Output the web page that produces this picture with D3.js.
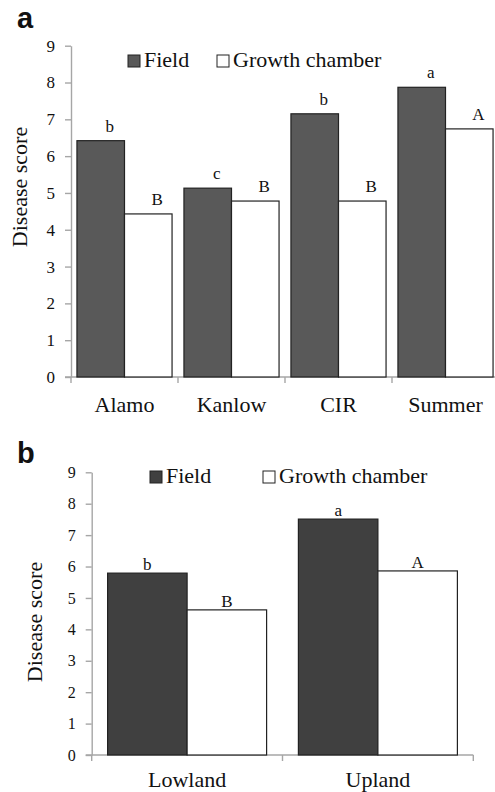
<!DOCTYPE html>
<html>
<head>
<meta charset="utf-8">
<script src="https://cdn.jsdelivr.net/npm/d3@7"></script>
<style>
  body { margin: 0; background: #fff; }
  svg { display: block; }
</style>
</head>
<body>
<div id="chart"></div>
<script>
  // panel a data
  const cultivars = ["Alamo", "Kanlow", "CIR", "Summer"];
  const fieldA = [6.42, 5.13, 7.15, 7.87];
  const chamberA = [4.43, 4.78, 4.78, 6.74];
  const fieldLettersA = ["b", "c", "b", "a"];
  const chamberLettersA = ["B", "B", "B", "A"];

  // panel b data
  const ecotypes = ["Lowland", "Upland"];
  const fieldB = [5.79, 7.51];
  const chamberB = [4.62, 5.86];
  const fieldLettersB = ["b", "a"];
  const chamberLettersB = ["B", "A"];

  const yTicks = [0, 1, 2, 3, 4, 5, 6, 7, 8, 9];
  const seriesNames = ["Field", "Growth chamber"];

  const width = 495;
  const height = 792;
  const axisColor = "#a6a6a6";
  const serif = "'Liberation Serif', 'Times New Roman', serif";

  let svg = d3.select("#chart")
    .append("svg")
    .attr("width", width)
    .attr("height", height);

  // draws one grouped bar panel
  function drawPanel(opt) {
    let g = svg.append("g");

    let x = d3.scaleBand()
      .domain(opt.categories)
      .range([opt.left, opt.right])
      .paddingInner(0)
      .paddingOuter(0);

    let y = d3.scaleLinear()
      .domain([0, 9])
      .range([opt.bottom, opt.top]);

    let inner = d3.scaleBand()
      .domain([0, 1])
      .range([0, x.bandwidth()])
      .paddingOuter(opt.outerPad)
      .paddingInner(0);

    // y axis
    let yAxis = g.append("g")
      .attr("transform", `translate(${opt.left},0)`)
      .call(d3.axisLeft(y).tickValues(yTicks).tickSize(6).tickPadding(10).tickSizeOuter(0));
    yAxis.select(".domain").attr("stroke", axisColor).attr("stroke-width", 1.4);
    yAxis.selectAll(".tick line").attr("stroke", axisColor).attr("stroke-width", 1.4);
    yAxis.selectAll(".tick text")
      .style("font-family", serif)
      .style("font-size", opt.tickFont + "px")
      .attr("fill", "#111");

    // x axis (category dividers)
    let xEdges = opt.categories.map(c => x(c)).concat([opt.right]);
    g.append("line")
      .attr("x1", opt.left - 6).attr("x2", opt.right)
      .attr("y1", y(0)).attr("y2", y(0))
      .attr("stroke", axisColor).attr("stroke-width", 1.4);
    g.selectAll(".xtick")
      .data(xEdges)
      .enter()
      .append("line")
      .attr("x1", d => d).attr("x2", d => d)
      .attr("y1", y(0)).attr("y2", y(0) + 6)
      .attr("stroke", axisColor).attr("stroke-width", 1.4);

    g.selectAll(".xlabel")
      .data(opt.categories)
      .enter()
      .append("text")
      .attr("x", d => x(d) + x.bandwidth() / 2)
      .attr("y", opt.xLabelY)
      .attr("text-anchor", "middle")
      .attr("fill", "#111")
      .style("font-family", serif)
      .style("font-size", "22px")
      .text(d => d);

    // bars
    let series = [
      { vals: opt.field, letters: opt.fieldLetters, fill: opt.fieldColor },
      { vals: opt.chamber, letters: opt.chamberLetters, fill: "#fff" }
    ];

    series.forEach((s, si) => {
      g.selectAll(".bar" + si)
        .data(opt.categories)
        .enter()
        .append("rect")
        .attr("x", d => x(d) + inner(si))
        .attr("y", (d, i) => y(s.vals[i]))
        .attr("width", inner.bandwidth())
        .attr("height", (d, i) => y(0) - y(s.vals[i]))
        .attr("fill", s.fill)
        .attr("stroke", "#222")
        .attr("stroke-width", 1.2);

      g.selectAll(".letter" + si)
        .data(opt.categories)
        .enter()
        .append("text")
        .attr("x", d => x(d) + inner(si) + inner.bandwidth() / 2 + opt.letterDx)
        .attr("y", (d, i) => y(s.vals[i]) - opt.letterGap)
        .attr("text-anchor", "middle")
        .attr("fill", "#111")
        .style("font-family", serif)
        .style("font-size", "17px")
        .text((d, i) => s.letters[i]);
    });

    // y title
    g.append("text")
      .attr("transform", `translate(${opt.titleX},${opt.titleY}) rotate(-90)`)
      .attr("text-anchor", "middle")
      .attr("fill", "#111")
      .style("font-family", serif)
      .style("font-size", "22px")
      .text("Disease score");

    // legend
    let legendFills = [opt.fieldColor, "#fff"];
    opt.legendX.forEach((lx, i) => {
      g.append("rect")
        .attr("x", lx)
        .attr("y", opt.legendY - 12)
        .attr("width", 12)
        .attr("height", 12)
        .attr("fill", legendFills[i])
        .attr("stroke", "#222")
        .attr("stroke-width", 1);
      g.append("text")
        .attr("x", lx + 16)
        .attr("y", opt.legendY)
        .attr("fill", "#111")
        .style("font-family", serif)
        .style("font-size", "22px")
        .text(seriesNames[i]);
    });

    // panel letter
    g.append("text")
      .attr("x", 17)
      .attr("y", opt.panelY)
      .attr("fill", "#111")
      .style("font-family", "'Liberation Sans', Arial, sans-serif")
      .style("font-weight", "bold")
      .style("font-size", "29px")
      .text(opt.panel);
  }

  drawPanel({
    panel: "a", panelY: 28,
    categories: cultivars, field: fieldA, chamber: chamberA,
    fieldLetters: fieldLettersA, chamberLetters: chamberLettersA,
    fieldColor: "#595959",
    left: 71, right: 499, top: 45.7, bottom: 377,
    outerPad: 0.125, letterDx: 9, letterGap: 9,
    tickFont: 17, xLabelY: 412,
    titleX: 27, titleY: 187,
    legendX: [128, 217], legendY: 67
  });

  drawPanel({
    panel: "b", panelY: 463,
    categories: ecotypes, field: fieldB, chamber: chamberB,
    fieldLetters: fieldLettersB, chamberLetters: chamberLettersB,
    fieldColor: "#404040",
    left: 91.7, right: 473.3, top: 472.3, bottom: 755,
    outerPad: 0.2, letterDx: 0, letterGap: 3,
    tickFont: 16, xLabelY: 787,
    titleX: 41.5, titleY: 622,
    legendX: [150, 263], legendY: 483
  });
</script>
</body>
</html>
